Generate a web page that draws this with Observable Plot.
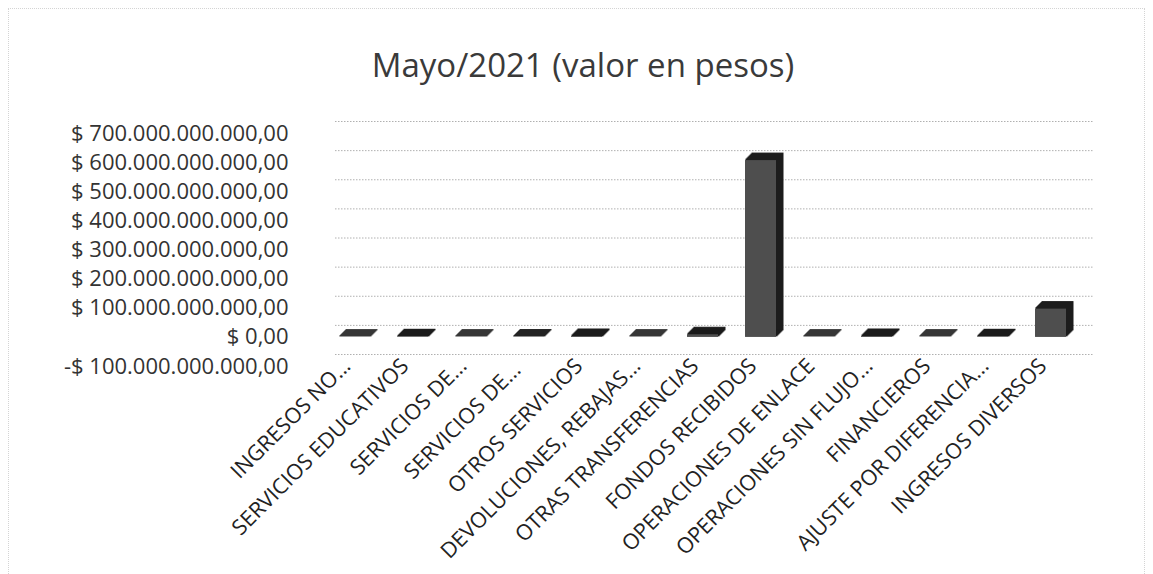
<!DOCTYPE html>
<html>
<head>
<meta charset="utf-8">
<script src="https://cdn.jsdelivr.net/npm/d3@7"></script>
<script src="https://cdn.jsdelivr.net/npm/@observablehq/plot@0.6"></script>
<style>
  html, body { margin: 0; padding: 0; background: #fff; }
  #wrap { position: relative; width: 1153px; height: 574px; overflow: hidden; }
  #frame { position: absolute; left: 8px; top: 8px; width: 1135px; height: 580px; border: 1px dotted #d4d4d4; pointer-events: none; }
  #title { position: absolute; left: 0; top: 48px; width: 1166px; text-align: center; font-family: "Open Sans", sans-serif; font-size: 33px; line-height: 1; color: #3a3a3a; }
  #chart { position: absolute; left: 0; top: 100px; }
</style>
</head>
<body>
<div id="wrap">
  <div id="frame"></div>
  <div id="title">Mayo/2021 (valor en pesos)</div>
  <div id="chart"></div>
</div>
<script>
const categories = [
  "INGRESOS NO...",
  "SERVICIOS EDUCATIVOS",
  "SERVICIOS DE...",
  "SERVICIOS DE... ",
  "OTROS SERVICIOS",
  "DEVOLUCIONES, REBAJAS...",
  "OTRAS TRANSFERENCIAS",
  "FONDOS RECIBIDOS",
  "OPERACIONES DE ENLACE",
  "OPERACIONES SIN FLUJO...",
  "FINANCIEROS",
  "AJUSTE POR DIFERENCIA...",
  "INGRESOS DIVERSOS"
];
const values = [
  0.5e9, 2.0e9, 0.5e9, 1.0e9, 3.0e9, 0.5e9, 9.0e9,
  607.0e9, 0.5e9, 3.0e9, 0.5e9, 2.0e9, 97.0e9
];
const yTicks = [-100e9, 0, 100e9, 200e9, 300e9, 400e9, 500e9, 600e9, 700e9];
const yTickLabels = [
  "-$ 100.000.000.000,00", "$ 0,00", "$ 100.000.000.000,00", "$ 200.000.000.000,00",
  "$ 300.000.000.000,00", "$ 400.000.000.000,00", "$ 500.000.000.000,00",
  "$ 600.000.000.000,00", "$ 700.000.000.000,00"
];

const data = categories.map((c, i) => ({cat: c, value: values[i]}));
const labelOf = new Map(yTicks.map((t, i) => [t, yTickLabels[i]]));

// depth layers sweep the bar backwards to give the 3D box (side + top faces)
const depth = [1, 2, 3, 4, 5, 6, 7];
const depthMarks = depth.map(k =>
  Plot.barY(data, {x: "cat", y: "value", dx: k, dy: -k, fill: "#1c1c1c", stroke: "#1c1c1c", strokeWidth: 1})
);

const chart = Plot.plot({
  width: 1153,
  height: 474,
  marginLeft: 323,
  marginRight: 71,
  marginTop: 33,
  marginBottom: 208,
  style: {fontFamily: "Open Sans, sans-serif", fontSize: "21px", color: "#333", background: "transparent"},
  x: {domain: categories, paddingInner: 0.47, paddingOuter: 0.235, label: null},
  y: {domain: [-100e9, 700e9], label: null},
  marks: [
    Plot.ruleY(yTicks, {dx: 12, dy: -12, stroke: "#b0b0b0", strokeDasharray: "1.5,1.5", strokeWidth: 1}),
    Plot.axisY({ticks: yTicks, tickFormat: d => labelOf.get(d), tickSize: 0, tickPadding: 35, fontSize: "22px", letterSpacing: "0.9px", fill: "#333"}),
    Plot.axisX({tickRotate: -45, tickSize: 0, tickPadding: 0, dx: -8, dy: -4, fontSize: "21.5px", fill: "#222"}),
    ...depthMarks,
    Plot.barY(data, {x: "cat", y: "value", fill: "#4e4e4e"})
  ]
});
document.getElementById("chart").appendChild(chart);
</script>
</body>
</html>
